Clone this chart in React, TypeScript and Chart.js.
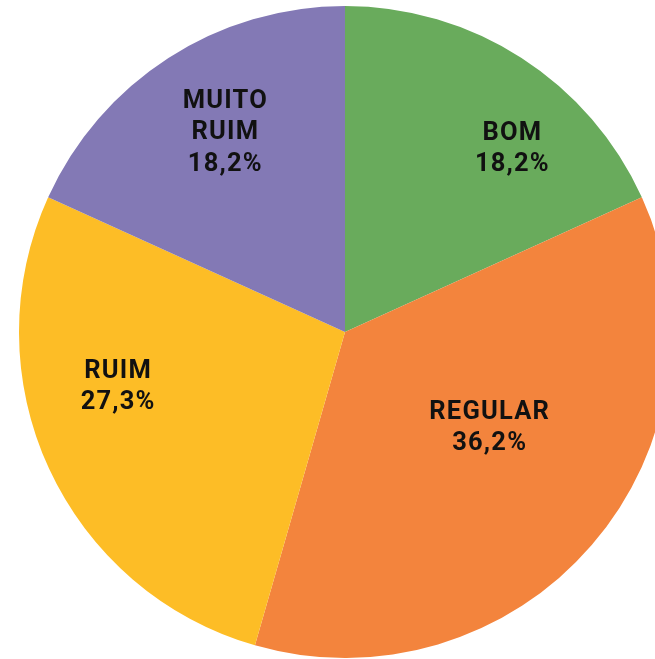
import React, { useEffect, useRef } from "react";
import { Chart, registerables } from "chart.js";

Chart.register(...registerables);

const categories = ["BOM", "REGULAR", "RUIM", "MUITO RUIM"];
const labelLines = [["BOM"], ["REGULAR"], ["RUIM"], ["MUITO", "RUIM"]];
const values = [18.2, 36.2, 27.3, 18.2];
const valueLabels = ["18,2%", "36,2%", "27,3%", "18,2%"];
const colors = ["#69AB5C", "#F3843D", "#FDBD26", "#8379B5"];

// label placement within each slice: fraction of angular span, fraction of radius
const labelAngleFrac = [0.64, 0.44, 0.62, 0.53];
const labelRadiusFrac = [0.765, 0.527, 0.716, 0.72];

const labelPlugin = {
  id: "sliceLabels",
  afterDatasetsDraw(chart: any) {
    const meta = chart.getDatasetMeta(0);
    const ctx = chart.ctx;
    ctx.save();
    ctx.fillStyle = "#111111";
    ctx.textAlign = "center";
    ctx.textBaseline = "alphabetic";
    ctx.font = "bold 25.5px Roboto";
    try {
      (ctx as any).letterSpacing = "1.2px";
    } catch (e) {}
    const lh = 31.5;
    const capHalf = 9;
    meta.data.forEach((arc: any, i: number) => {
      const p = arc.getProps(["x", "y", "startAngle", "endAngle", "outerRadius"], true);
      const a = p.startAngle + (p.endAngle - p.startAngle) * labelAngleFrac[i];
      const r = p.outerRadius * labelRadiusFrac[i];
      const cx = p.x + Math.cos(a) * r + 0.6;
      const cy = p.y + Math.sin(a) * r;
      const lines = [...labelLines[i], valueLabels[i]];
      const y0 = cy - ((lines.length - 1) * lh) / 2;
      lines.forEach((t, k) => ctx.fillText(t, cx, y0 + k * lh + capHalf));
    });
    ctx.restore();
  },
};

export default function App() {
  const ref = useRef<HTMLCanvasElement>(null);
  useEffect(() => {
    if (!ref.current) return;
    const chart = new Chart(ref.current, {
      type: "pie",
      data: {
        labels: categories,
        datasets: [
          {
            data: values,
            backgroundColor: colors,
            borderWidth: 0,
          },
        ],
      },
      options: {
        responsive: false,
        animation: false,
        devicePixelRatio: 1,
        layout: { padding: 0 },
        plugins: {
          legend: { display: false },
          tooltip: { enabled: false },
        },
      },
      plugins: [labelPlugin],
    });
    return () => chart.destroy();
  }, []);
  return (
    <div
      style={{
        position: "fixed",
        left: 0,
        top: 0,
        width: 655,
        height: 659,
        overflow: "hidden",
        background: "#ffffff",
      }}
    >
      <canvas
        ref={ref}
        width={690}
        height={652}
        style={{ position: "absolute", left: 0, top: 6, width: 690, height: 652 }}
      />
    </div>
  );
}
